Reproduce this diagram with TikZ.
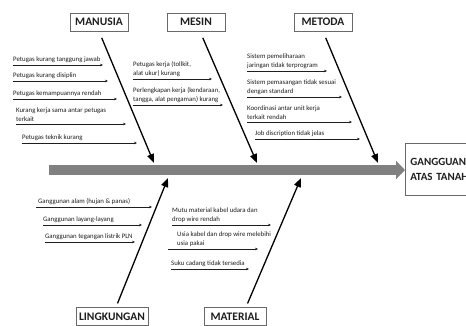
\documentclass[tikz,border=0pt]{standalone}
\usepackage{fontspec}
\setmainfont{Carlito}
\usetikzlibrary{arrows.meta,positioning}
\definecolor{spinegray}{RGB}{128,128,128}
\definecolor{boxgray}{RGB}{105,105,105}
\definecolor{textdark}{RGB}{30,30,30}

\tikzset{
  catbox/.style={draw=boxgray, line width=0.8pt, minimum width=58pt, minimum height=18pt,
    inner sep=2pt, font=\fontsize{11.5}{13}\selectfont\bfseries, text=textdark},
  cause/.style={anchor=south west, inner xsep=0pt, inner ysep=2.5pt, align=left,
    font=\fontsize{6.8}{8.5}\selectfont, text=textdark},
  causearrow/.style={draw=textdark, line width=0.6pt, -{Stealth[length=3pt,width=2.6pt]}},
  bonearrow/.style={draw=black, line width=1.3pt, shorten <=7pt, -{Triangle[length=9pt,width=7pt]}},
}

\begin{document}
\begin{tikzpicture}[x=1pt,y=-1pt]
\useasboundingbox (0,0) rectangle (466,325);
\clip (0,0) rectangle (466,325);

% Effect box and spine
\node[draw=boxgray, line width=0.8pt, anchor=west, minimum height=52pt, text width=80pt,
  inner sep=5pt, align=left, font=\fontsize{11}{15}\selectfont\bfseries, text=textdark]
  (effect) at (405,169) {GANGGUAN\\ATAS TANAH};
\coordinate (spinestart) at (49,170);
\draw[spinegray, line width=10pt, -{Triangle[length=9pt,width=18pt]}] (spinestart) -- (effect.west |- spinestart);

% Category boxes
\node[catbox] (manusia) at (99,22) {MANUSIA};
\node[catbox] (mesin) at (196,22) {MESIN};
\node[catbox] (metoda) at (323,22) {METODA};
\node[catbox, minimum width=72pt] (lingkungan) at (112,316.5) {LINGKUNGAN};
\node[catbox, minimum width=62pt] (material) at (235,316.5) {MATERIAL};

% Main bones
\coordinate (manusiatip) at (154,163);
\coordinate (mesintip) at (257,163);
\coordinate (metodatip) at (378,163);
\coordinate (lingkungantip) at (168,178);
\coordinate (materialtip) at (301,178);
\draw[bonearrow] (manusia.south) -- (manusiatip);
\draw[bonearrow] ([xshift=4pt]mesin.south) -- (mesintip);
\draw[bonearrow] (metoda.south) -- (metodatip);
\draw[bonearrow, shorten <=4pt] ([xshift=4pt]lingkungan.north) -- (lingkungantip);
\draw[bonearrow, shorten <=4pt] ([xshift=11pt]material.north) -- (materialtip);

% Manusia causes
\node[cause] (m1) at (13,65) {Petugas kurang tanggung jawab};
\coordinate (m1end) at (103,65);
\draw[causearrow] (m1.south west) -- (m1end);
\node[cause] (m2) at (13,81) {Petugas kurang disiplin};
\coordinate (m2end) at (108,81);
\draw[causearrow] (m2.south west) -- (m2end);
\node[cause] (m3) at (13,99) {Petugas kemampuannya rendah};
\coordinate (m3end) at (117,99);
\draw[causearrow] (m3.south west) -- (m3end);
\node[cause] (m4) at (16,124) {Kurang kerja sama antar petugas\\terkait};
\coordinate (m4end) at (126,124);
\draw[causearrow] (m4.south west) -- (m4end);
\node[cause] (m5) at (22,143) {Petugas teknik kurang};
\coordinate (m5end) at (137,143);
\draw[causearrow] (m5.south west) -- (m5end);

% Mesin causes
\node[cause] (s1) at (133,79) {Petugas kerja (tollkit,\\alat ukur) kurang};
\coordinate (s1end) at (212,79);
\draw[causearrow] (s1.south west) -- (s1end);
\node[cause] (s2) at (133,105) {Perlengkapan kerja (kendaraan,\\tangga, alat pengaman) kurang};
\coordinate (s2end) at (223,105);
\draw[causearrow] (s2.south west) -- (s2end);

% Metoda causes
\node[cause] (t1) at (247,71) {Sistem pemeliharaan\\jaringan tidak terprogram};
\coordinate (t1end) at (327,71);
\draw[causearrow] (t1.south west) -- (t1end);
\node[cause] (t2) at (247,97) {Sistem pemasangan tidak sesuai\\dengan standard};
\coordinate (t2end) at (342,97);
\draw[causearrow] (t2.south west) -- (t2end);
\node[cause] (t3) at (247,122) {Koordinasi antar unit kerja\\terkait rendah};
\coordinate (t3end) at (352,122);
\draw[causearrow] (t3.south west) -- (t3end);
\node[cause] (t4) at (255,139) {Job discription tidak jelas};
\coordinate (t4end) at (360,139);
\draw[causearrow] (t4.south west) -- (t4end);

% Lingkungan causes
\node[cause] (l1) at (38,207) {Ganggunan alam (hujan \& panas)};
\coordinate (l1end) at (152,207);
\draw[causearrow] ([xshift=-2pt]l1.south west) -- (l1end);
\node[cause] (l2) at (43,225) {Ganggunan layang-layang};
\coordinate (l2end) at (142,225);
\draw[causearrow] (l2.south west) -- (l2end);
\node[cause] (l3) at (45,242) {Ganggunan tegangan listrik PLN};
\coordinate (l3end) at (135,242);
\draw[causearrow] (l3.south west) -- (l3end);

% Material causes
\node[cause] (r1) at (172,225) {Mutu material kabel udara dan\\drop wire rendah};
\coordinate (r1end) at (271,225);
\draw[causearrow] (r1.south west) -- (r1end);
\node[cause] (r2) at (177,249) {Usia kabel dan drop wire melebihi\\usia pakai};
\coordinate (r2end) at (258,249);
\draw[causearrow] ([xshift=-9pt]r2.south west) -- (r2end);
\node[cause] (r3) at (171,269) {Suku cadang tidak tersedia};
\coordinate (r3end) at (249,269);
\draw[causearrow] (r3.south west) -- (r3end);

\end{tikzpicture}
\end{document}
